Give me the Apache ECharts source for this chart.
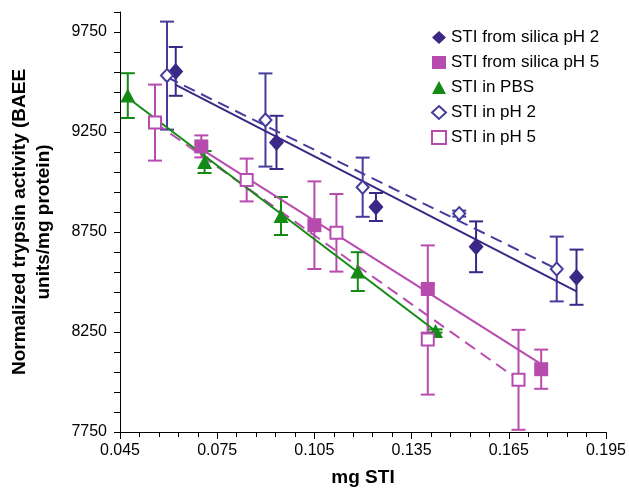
<!DOCTYPE html>
<html>
<head>
<meta charset="utf-8">
<script src="https://cdn.jsdelivr.net/npm/echarts@6/dist/echarts.min.js"></script>
<style>html,body{margin:0;padding:0;background:#fff;}#c{width:629px;height:492px;}</style>
</head>
<body>
<div id="c"></div>
<script>
// ---- data ----
const silicaPH2X = [0.0622, 0.0933, 0.1240, 0.1549, 0.1859];
const silicaPH2Y = [9553, 9198, 8875, 8676, 8524];
const silicaPH2Err = [122, 133, 70, 127, 138];

const silicaPH5X = [0.0701, 0.1050, 0.1400, 0.1750];
const silicaPH5Y = [9178, 8784, 8465, 8064];
const silicaPH5Err = [55, 219, 218, 98];

const pbsX = [0.0474, 0.0711, 0.0947, 0.1184, 0.1424];
const pbsY = [9432, 9100, 8830, 8552, 8255];
const pbsErr = [112, 55, 95, 97, 8];

const ph2X = [0.0595, 0.0899, 0.1199, 0.1497, 0.1798];
const ph2Y = [9532, 9310, 8974, 8842, 8565];
const ph2Err = [270, 233, 148, 15, 162];

const ph5X = [0.0558, 0.0841, 0.1118, 0.1400, 0.1680];
const ph5Y = [9297, 9010, 8746, 8213, 8011];
const ph5Err = [190, 107, 194, 276, 250];

// fitted trend lines (end points)
const fitSilicaPH2X = [0.0622, 0.1859], fitSilicaPH2Y = [9486, 8453];
const fitPH2X = [0.0595, 0.1798], fitPH2Y = [9524, 8565];
const fitSilicaPH5X = [0.0701, 0.1750], fitSilicaPH5Y = [9164, 8089];
const fitPH5X = [0.0558, 0.1680], fitPH5Y = [9297, 8011];
const fitPbsX = [0.0474, 0.1424], fitPbsY = [9421, 8255];

const seriesNames = ['STI from silica pH 2', 'STI from silica pH 5', 'STI in PBS', 'STI in pH 2', 'STI in pH 5'];
const xTickLabels = ['0.045', '0.075', '0.105', '0.135', '0.165', '0.195'];
const yTickLabels = ['7750', '8250', '8750', '9250', '9750'];

// ---- styling ----
const PURPLE = '#3b2886';
const PURPLE2 = '#463c9e';
const MAGENTA = '#b84bae';
const GREEN = '#138a13';
const FONT = 'Liberation Sans, Arial, Helvetica, sans-serif';

const zip = (xs, ys) => xs.map((x, i) => [x, ys[i]]);
const errData = (xs, ys, es) => xs.map((x, i) => [x, ys[i] - es[i], ys[i] + es[i]]);

function errSeries(xs, ys, es, color) {
  return {
    type: 'custom', z: 2, silent: true,
    data: errData(xs, ys, es),
    encode: { x: 0, y: [1, 2] },
    renderItem: function (params, api) {
      const x = api.value(0), lo = api.value(1), hi = api.value(2);
      const pt = api.coord([x, hi]), pb = api.coord([x, lo]);
      const hw = 7;
      const st = { stroke: color, lineWidth: 2, fill: null };
      return {
        type: 'group', children: [
          { type: 'line', shape: { x1: pt[0], y1: pt[1], x2: pb[0], y2: pb[1] }, style: st },
          { type: 'line', shape: { x1: pt[0] - hw, y1: pt[1], x2: pt[0] + hw, y2: pt[1] }, style: st },
          { type: 'line', shape: { x1: pb[0] - hw, y1: pb[1], x2: pb[0] + hw, y2: pb[1] }, style: st }
        ]
      };
    }
  };
}
function fitSeries(xs, ys, color, dashed) {
  return {
    type: 'line', z: 3, silent: true, symbol: 'none',
    data: zip(xs, ys),
    lineStyle: { color: color, width: 2, type: dashed ? [12, 7] : 'solid' }
  };
}

const chart = echarts.init(document.getElementById('c'), null, { renderer: 'canvas' });
chart.setOption({
  animation: false,
  backgroundColor: '#fff',
  grid: { left: 118, right: 20, top: 12, bottom: 57, containLabel: false },
  legend: {
    orient: 'vertical', left: 426, top: 24, itemGap: 8,
    itemWidth: 14, itemHeight: 13,
    textStyle: { fontFamily: FONT, fontSize: 17, color: '#000' },
    data: seriesNames
  },
  xAxis: {
    type: 'value', min: 0.045, max: 0.195, interval: 0.03,
    name: 'mg STI', nameLocation: 'middle', nameGap: 36,
    nameTextStyle: { fontFamily: FONT, fontSize: 19, fontWeight: 'bold', color: '#000' },
    axisLine: { lineStyle: { color: '#000', width: 1 } },
    axisTick: { show: true, length: 7, lineStyle: { color: '#000' } },
    minorTick: { show: true, splitNumber: 5, length: 5, lineStyle: { color: '#000' } },
    splitLine: { show: false },
    axisLabel: {
      fontFamily: FONT, fontSize: 16, color: '#000', margin: 11,
      formatter: function (v) {
        const s = v.toFixed(3);
        return xTickLabels.indexOf(s) >= 0 ? s : '';
      }
    }
  },
  yAxis: {
    type: 'value', min: 7750, max: 9850, interval: 100,
    name: 'Normalized trypsin activity (BAEE\nunits/mg protein)',
    nameLocation: 'middle', nameGap: 64,
    nameTextStyle: { fontFamily: FONT, fontSize: 19, fontWeight: 'bold', color: '#000', lineHeight: 24 },
    axisLine: { show: true, lineStyle: { color: '#000', width: 1 } },
    axisTick: { show: true, length: 6, lineStyle: { color: '#000' } },
    splitLine: { show: false },
    axisLabel: {
      fontFamily: FONT, fontSize: 16, color: '#000', margin: 13,
      formatter: function (v) {
        const s = String(Math.round(v));
        return yTickLabels.indexOf(s) >= 0 ? s : '';
      }
    }
  },
  series: [
    errSeries(silicaPH2X, silicaPH2Y, silicaPH2Err, PURPLE),
    errSeries(ph2X, ph2Y, ph2Err, PURPLE2),
    errSeries(silicaPH5X, silicaPH5Y, silicaPH5Err, MAGENTA),
    errSeries(ph5X, ph5Y, ph5Err, MAGENTA),
    errSeries(pbsX, pbsY, pbsErr, GREEN),
    fitSeries(fitSilicaPH2X, fitSilicaPH2Y, PURPLE, false),
    fitSeries(fitPH2X, fitPH2Y, PURPLE2, true),
    fitSeries(fitSilicaPH5X, fitSilicaPH5Y, MAGENTA, false),
    fitSeries(fitPH5X, fitPH5Y, MAGENTA, true),
    fitSeries(fitPbsX, fitPbsY, GREEN, false),
    {
      name: seriesNames[0], type: 'scatter', z: 5, symbol: 'diamond', symbolSize: [15, 17],
      data: zip(silicaPH2X, silicaPH2Y), itemStyle: { color: PURPLE, opacity: 1 }
    },
    {
      name: seriesNames[1], type: 'scatter', z: 5, symbol: 'rect', symbolSize: 14,
      data: zip(silicaPH5X, silicaPH5Y), itemStyle: { color: MAGENTA, opacity: 1 }
    },
    {
      name: seriesNames[2], type: 'scatter', z: 5, symbol: 'triangle', symbolSize: [15, 14],
      data: zip(pbsX, pbsY), itemStyle: { color: GREEN, opacity: 1 }
    },
    {
      name: seriesNames[3], type: 'scatter', z: 5, symbol: 'diamond', symbolSize: [12, 13],
      data: zip(ph2X, ph2Y), itemStyle: { color: '#fff', borderColor: PURPLE2, borderWidth: 2, opacity: 1 }
    },
    {
      name: seriesNames[4], type: 'scatter', z: 5, symbol: 'rect', symbolSize: 12,
      data: zip(ph5X, ph5Y), itemStyle: { color: '#fff', borderColor: MAGENTA, borderWidth: 2, opacity: 1 }
    }
  ]
});
</script>
</body>
</html>
